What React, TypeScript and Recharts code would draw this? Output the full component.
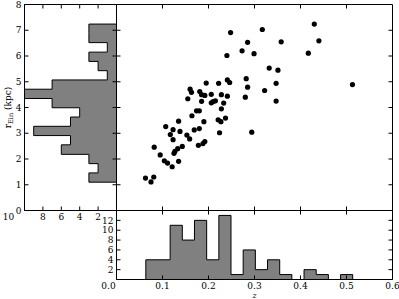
import React from 'react';
import { ScatterChart, Scatter, AreaChart, Area, XAxis, YAxis, Text } from 'recharts';

const FONT = '"DejaVu Serif", serif';

// scatter: redshift z vs Einstein radius (kpc)
const zPts = [
  0.248, 0.317, 0.285, 0.273, 0.299, 0.240, 0.282, 0.285, 0.280, 0.241,
  0.246, 0.222, 0.195, 0.160, 0.163, 0.181, 0.185, 0.192, 0.206, 0.228,
  0.241, 0.155, 0.185, 0.206, 0.210, 0.215, 0.233, 0.228, 0.174, 0.180,
  0.164, 0.190, 0.237, 0.221, 0.227, 0.135, 0.107, 0.123, 0.138, 0.169,
  0.180, 0.117, 0.153, 0.159, 0.123, 0.224, 0.294, 0.192, 0.188, 0.178,
  0.082, 0.133, 0.143, 0.127, 0.125, 0.095, 0.104, 0.111, 0.121, 0.135,
  0.063, 0.081, 0.075, 0.430, 0.440, 0.358, 0.417, 0.332, 0.351, 0.347,
  0.322, 0.347, 0.513,
];
const rPts = [
  6.91, 7.03, 6.53, 6.20, 6.09, 6.02, 5.12, 4.79, 4.40, 5.07,
  4.97, 4.94, 4.95, 4.71, 4.59, 4.62, 4.50, 4.47, 4.51, 4.50,
  4.44, 4.34, 4.24, 4.18, 4.23, 4.26, 4.17, 3.95, 3.87, 3.87,
  3.68, 3.45, 3.59, 3.52, 3.45, 3.47, 3.26, 3.14, 3.07, 3.13,
  3.18, 2.95, 2.93, 2.78, 2.75, 3.02, 3.04, 2.68, 2.60, 2.53,
  2.46, 2.40, 2.49, 2.30, 2.22, 2.16, 1.93, 1.84, 1.70, 1.91,
  1.26, 1.30, 1.11, 7.24, 6.59, 6.55, 6.11, 5.53, 5.45, 4.94,
  4.66, 4.25, 4.89,
];

// histogram of z (bottom panel)
const zEdges = [0.0637, 0.0902, 0.1166, 0.1431, 0.1695, 0.196, 0.2225, 0.2489, 0.2754,
  0.3019, 0.3283, 0.3548, 0.3812, 0.4077, 0.4342, 0.4606, 0.4871, 0.5135];
const zCounts = [4, 4, 11, 8, 12, 4, 13, 1, 6, 2, 4, 1, 0, 2, 1, 0, 1];

// histogram of r_Ein (left panel)
const rEdges = [1.10, 1.46, 1.82, 2.18, 2.55, 2.91, 3.27, 3.63, 3.99, 4.35, 4.71,
  5.07, 5.43, 5.79, 6.15, 6.52, 6.88, 7.24];
const rCounts = [3, 2, 3, 6, 5, 9, 5, 4, 7, 10, 7, 1, 2, 3, 1, 3, 3];

const zTicks = [0, 0.1, 0.2, 0.3, 0.4, 0.5, 0.6];
const zInner = [0.1, 0.2, 0.3, 0.4, 0.5];
const rTicks = [0, 1, 2, 3, 4, 5, 6, 7, 8];
const rInner = [1, 2, 3, 4, 5, 6, 7];
const countTicks = [2, 4, 6, 8, 10];
const zCountTicks = [2, 4, 6, 8, 10, 12];

const points = zPts.map((z, i) => ({ z, r: rPts[i] }));

// outline rows for a step-filled histogram
const stepRows = (edges: number[], counts: number[], key: string) => [
  { [key]: edges[0], n: 0 },
  ...counts.map((c, i) => ({ [key]: edges[i], n: c })),
  { [key]: edges[edges.length - 1], n: 0 },
];
const zRows = stepRows(zEdges, zCounts, 'z');
const rRows = stepRows(rEdges, rCounts, 'r');

const W = 399;
const H = 299;
const TL = 4; // inward tick length
const line = { stroke: '#000', strokeWidth: 1 };

const Dot = (p: any) => <circle cx={p.cx} cy={p.cy} r={2.6} fill="#000" />;

type Side = 'bottom' | 'top' | 'left' | 'right';

// draws an inward tick mark plus an optional label
const makeTick = (side: Side, m: number, fmt?: (v: number) => string, shiftVal?: number, shift = 0) => (p: any) => {
  let seg: number[];
  if (side === 'bottom') seg = [p.x, p.y - m, p.x, p.y - m - TL];
  else if (side === 'top') seg = [p.x, p.y + m, p.x, p.y + m + TL];
  else if (side === 'left') seg = [p.x + m, p.y, p.x + m + TL, p.y];
  else seg = [p.x - m, p.y, p.x - m - TL, p.y];
  return (
    <g>
      <line x1={seg[0]} y1={seg[1]} x2={seg[2]} y2={seg[3]} stroke="#000" strokeWidth={1} />
      {fmt && (
        <Text
          x={p.x}
          y={p.y}
          dx={p.payload.value === shiftVal ? shift : 0}
          textAnchor={p.textAnchor}
          verticalAnchor={p.verticalAnchor}
          fontFamily={FONT}
          fontSize={9}
          fill="#000"
        >
          {fmt(p.payload.value)}
        </Text>
      )}
    </g>
  );
};

const RLabel = (props: any) => {
  const vb = props.viewBox;
  const cx = vb.x + vb.width - 17;
  const cy = vb.y + vb.height / 2;
  return (
    <text
      transform={`translate(${cx},${cy}) rotate(-90)`}
      textAnchor="middle"
      dy="0.35em"
      fontFamily={FONT}
      fontSize={9}
      fill="#000"
    >
      r<tspan fontSize={6.5} dy={2}>Ein</tspan>
      <tspan dy={-2}> (kpc)</tspan>
    </text>
  );
};

const ZLabel = (props: any) => {
  const vb = props.viewBox;
  return (
    <text x={vb.x + vb.width / 2} y={vb.y + 18} textAnchor="middle" fontFamily={FONT} fontStyle="italic" fontSize={8} fill="#000">
      z
    </text>
  );
};

const box: React.CSSProperties = { position: 'absolute', left: 0, top: 0 };
const num = (v: number) => String(v);

export default function App() {
  return (
    <div style={{ position: 'relative', width: W, height: H, background: '#fff' }}>
      <style>{'body{margin:0}'}</style>

      {/* main scatter */}
      <div style={box}>
        <ScatterChart width={W} height={H} margin={{ top: 3.5, right: 5.5, bottom: 87.5, left: 115.5 }}>
          <XAxis type="number" dataKey="z" domain={[0, 0.6]} ticks={zInner} interval={0} allowDataOverflow
            height={1} tickSize={0} tickMargin={0} axisLine={line} tickLine={false} tick={makeTick('bottom', 0)} />
          <XAxis xAxisId="t" orientation="top" type="number" dataKey="z" domain={[0, 0.6]} ticks={zInner} interval={0}
            allowDataOverflow height={1} tickSize={0} tickMargin={0} axisLine={line} tickLine={false}
            tick={makeTick('top', 0)} />
          <YAxis type="number" dataKey="r" domain={[0, 8]} ticks={rInner} interval={0} allowDataOverflow
            width={1} tickSize={0} tickMargin={0} axisLine={line} tickLine={false} tick={makeTick('left', 0)} />
          <YAxis yAxisId="r" orientation="right" type="number" dataKey="r" domain={[0, 8]} ticks={rInner} interval={0}
            allowDataOverflow width={1} tickSize={0} tickMargin={0} axisLine={line} tickLine={false}
            tick={makeTick('right', 0)} />
          <Scatter data={points} shape={Dot} isAnimationActive={false} />
        </ScatterChart>
      </div>

      {/* left histogram of r_Ein */}
      <div style={box}>
        <AreaChart layout="vertical" data={rRows} width={W} height={H}
          margin={{ top: 3.5, right: 281.5, bottom: 87.5, left: 23.5 }}>
          <XAxis type="number" dataKey="n" reversed domain={[0, 10]} ticks={countTicks} interval={0} allowDataOverflow
            height={1} tickSize={0} tickMargin={3} axisLine={line} tickLine={false}
            tick={makeTick('bottom', 3, num, 10, -16)} />
          <XAxis xAxisId="t" orientation="top" type="number" dataKey="n" reversed domain={[0, 10]} ticks={countTicks}
            interval={0} allowDataOverflow height={1} tickSize={0} tickMargin={0} axisLine={line} tickLine={false}
            tick={makeTick('top', 0)} />
          <YAxis type="number" dataKey="r" reversed domain={[0, 8]} ticks={rTicks} interval={0} allowDataOverflow
            width={1} tickSize={0} tickMargin={3} axisLine={line} tickLine={false}
            tick={makeTick('left', 3, num)} label={<RLabel />} />
          <YAxis yAxisId="r" orientation="right" type="number" dataKey="r" reversed domain={[0, 8]} ticks={rInner}
            interval={0} allowDataOverflow width={1} tickSize={0} tickMargin={0} axisLine={line} tickLine={false}
            tick={makeTick('right', 0)} />
          <Area type="stepBefore" dataKey="n" stroke="#000" strokeWidth={1} fill="#808080" fillOpacity={1}
            dot={false} activeDot={false} isAnimationActive={false} />
        </AreaChart>
      </div>

      {/* bottom histogram of z */}
      <div style={box}>
        <AreaChart data={zRows} width={W} height={H}
          margin={{ top: 209.5, right: 5.5, bottom: 18.5, left: 115.5 }}>
          <XAxis type="number" dataKey="z" domain={[0, 0.6]} ticks={zTicks} interval={0} allowDataOverflow
            height={1} tickSize={0} tickMargin={3.5} axisLine={line} tickLine={false}
            tick={makeTick('bottom', 3.5, (v) => v.toFixed(1), 0, -8)} label={<ZLabel />} />
          <XAxis xAxisId="t" orientation="top" type="number" dataKey="z" domain={[0, 0.6]} ticks={zInner} interval={0}
            allowDataOverflow height={1} tickSize={0} tickMargin={0} axisLine={line} tickLine={false}
            tick={makeTick('top', 0)} />
          <YAxis type="number" dataKey="n" domain={[0, 14]} ticks={zCountTicks} interval={0} allowDataOverflow
            width={1} tickSize={0} tickMargin={3} axisLine={line} tickLine={false}
            tick={makeTick('left', 3, num)} />
          <YAxis yAxisId="r" orientation="right" type="number" dataKey="n" domain={[0, 14]} ticks={zCountTicks}
            interval={0} allowDataOverflow width={1} tickSize={0} tickMargin={0} axisLine={line} tickLine={false}
            tick={makeTick('right', 0)} />
          <Area type="stepAfter" dataKey="n" stroke="#000" strokeWidth={1} fill="#808080" fillOpacity={1}
            dot={false} activeDot={false} isAnimationActive={false} />
        </AreaChart>
      </div>
    </div>
  );
}
